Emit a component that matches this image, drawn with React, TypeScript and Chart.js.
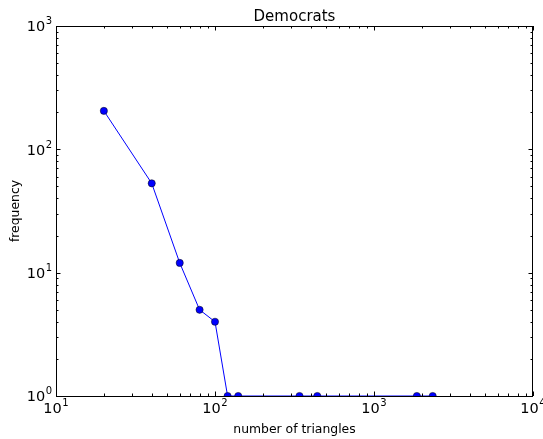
import React, { useEffect, useRef } from "react";
import { Chart, registerables } from "chart.js";

Chart.register(...registerables);

const xValues = [20, 40, 60, 80, 100, 120, 140, 340, 440, 1860, 2340];
const yValues = [205, 53, 12, 5, 4, 1, 1, 1, 1, 1, 1];
const xTickExponents = [1, 2, 3, 4];
const yTickExponents = [0, 1, 2, 3];
const titleText = "Democrats";
const xLabelText = "number of triangles";
const yLabelText = "frequency";

const FONT = "'DejaVu Sans', sans-serif";

function drawPow(
  ctx: CanvasRenderingContext2D,
  exp: number,
  x: number,
  baseline: number,
  align: "center" | "right"
) {
  const baseFont = `14.5px ${FONT}`;
  const supFont = `10px ${FONT}`;
  ctx.font = baseFont;
  const w1 = ctx.measureText("10").width;
  ctx.font = supFont;
  const w2 = ctx.measureText(String(exp)).width;
  const total = w1 + w2 + 0.5;
  const start = align === "center" ? x - total / 2 : x - total;
  ctx.textAlign = "left";
  ctx.textBaseline = "alphabetic";
  ctx.font = baseFont;
  ctx.fillText("10", start, baseline);
  ctx.font = supFont;
  ctx.fillText(String(exp), start + w1 + 0.5, baseline - 7);
}

const axesPlugin = {
  id: "mplAxes",
  afterDatasetsDraw(chart: any) {
    const ctx: CanvasRenderingContext2D = chart.ctx;
    const { left, right, top, bottom } = chart.chartArea;
    const xs = chart.scales.x;
    const ys = chart.scales.y;
    ctx.save();
    ctx.strokeStyle = "#000";
    ctx.lineWidth = 1;

    // ticks
    const major = 4.5;
    const minor = 2.5;
    ctx.beginPath();
    for (let e = xTickExponents[0]; e <= xTickExponents[xTickExponents.length - 1]; e++) {
      for (let k = 1; k <= 9; k++) {
        const v = k * Math.pow(10, e);
        if (v > Math.pow(10, xTickExponents[xTickExponents.length - 1])) break;
        const px = Math.round(xs.getPixelForValue(v)) + 0.5;
        const len = k === 1 ? major : minor;
        ctx.moveTo(px, bottom);
        ctx.lineTo(px, bottom - len);
        ctx.moveTo(px, top);
        ctx.lineTo(px, top + len);
      }
    }
    for (let e = yTickExponents[0]; e <= yTickExponents[yTickExponents.length - 1]; e++) {
      for (let k = 1; k <= 9; k++) {
        const v = k * Math.pow(10, e);
        if (v > Math.pow(10, yTickExponents[yTickExponents.length - 1])) break;
        const py = Math.round(ys.getPixelForValue(v)) + 0.5;
        const len = k === 1 ? major : minor;
        ctx.moveTo(left, py);
        ctx.lineTo(left + len, py);
        ctx.moveTo(right, py);
        ctx.lineTo(right - len, py);
      }
    }
    ctx.stroke();

    // frame
    ctx.strokeRect(left + 0.5, top + 0.5, right - left - 1, bottom - top);

    // tick labels
    ctx.fillStyle = "#000";
    xTickExponents.forEach((e) => {
      const px = xs.getPixelForValue(Math.pow(10, e));
      drawPow(ctx, e, px, bottom + 16.5, "center");
    });
    yTickExponents.forEach((e) => {
      const py = ys.getPixelForValue(Math.pow(10, e));
      drawPow(ctx, e, left - 4, py + 5.3, "right");
    });

    // title and axis labels
    const cx = (left + right) / 2;
    ctx.textAlign = "center";
    ctx.textBaseline = "alphabetic";
    ctx.font = `15px ${FONT}`;
    ctx.fillText(titleText, cx, 20.7);
    ctx.font = `12.4px ${FONT}`;
    ctx.fillText(xLabelText, cx, 433);
    ctx.save();
    ctx.translate(19.3, (top + bottom) / 2);
    ctx.rotate(-Math.PI / 2);
    ctx.fillText(yLabelText, 0, 0);
    ctx.restore();

    ctx.restore();
  },
};

export default function App() {
  const canvasRef = useRef<HTMLCanvasElement | null>(null);

  useEffect(() => {
    const canvas = canvasRef.current;
    if (!canvas) return;
    const chart = new Chart(canvas, {
      type: "line",
      data: {
        datasets: [
          {
            data: xValues.map((x, i) => ({ x, y: yValues[i] })),
            borderColor: "#0000ff",
            borderWidth: 1,
            backgroundColor: "#0000ff",
            pointBackgroundColor: "#0000ff",
            pointBorderColor: "#000000",
            pointBorderWidth: 0.5,
            pointRadius: 3.6,
            tension: 0,
            fill: false,
            clip: 0,
          } as any,
        ],
      },
      options: {
        responsive: false,
        animation: false,
        devicePixelRatio: 1,
        layout: { padding: { left: 56, top: 26, right: 10, bottom: 43 } },
        plugins: {
          legend: { display: false },
          title: { display: false },
          tooltip: { enabled: false },
        },
        scales: {
          x: { type: "logarithmic", min: 10, max: 10000, display: false },
          y: { type: "logarithmic", min: 1, max: 1000, display: false },
        },
      },
      plugins: [axesPlugin],
    });
    return () => chart.destroy();
  }, []);

  return (
    <div style={{ position: "absolute", left: 0, top: 0, width: 543, height: 439, background: "#fff" }}>
      <canvas ref={canvasRef} width={543} height={439} style={{ display: "block" }} />
    </div>
  );
}
